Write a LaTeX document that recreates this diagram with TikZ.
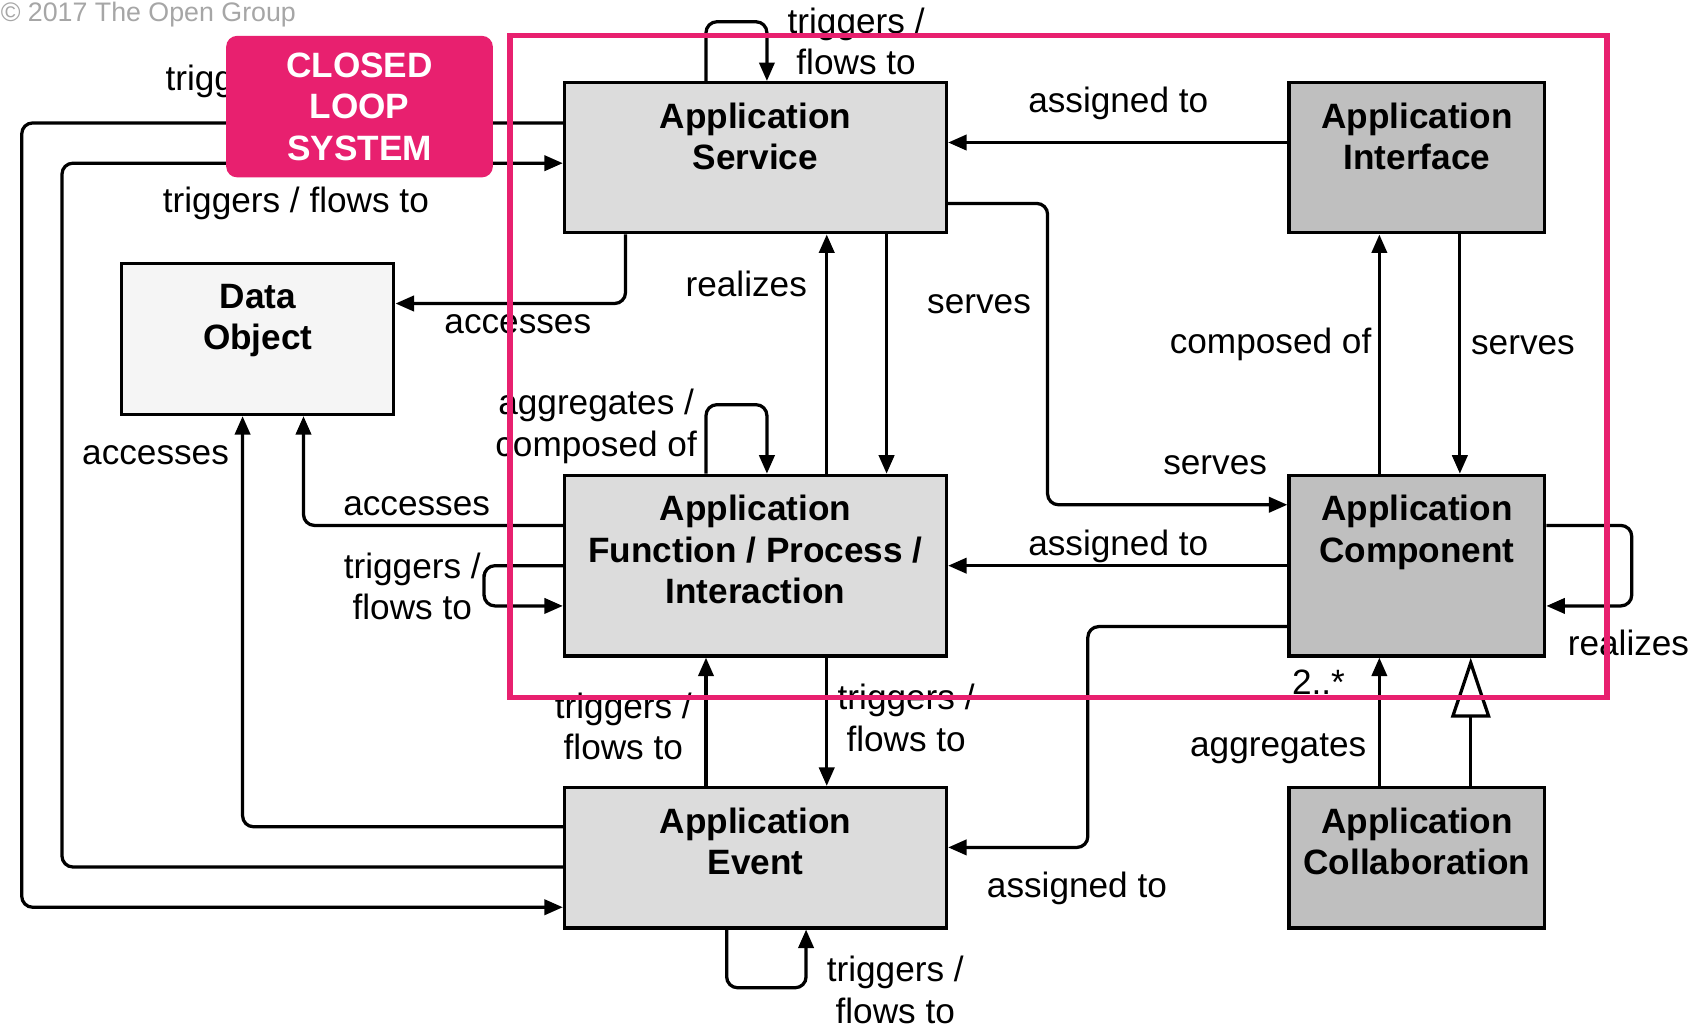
\documentclass[tikz,border=0pt]{standalone}
\usepackage{fontspec}
\setmainfont{Liberation Sans}
\usetikzlibrary{arrows.meta}
\definecolor{lg}{HTML}{DCDCDC}
\definecolor{dg}{HTML}{BFBFBF}
\definecolor{pk}{HTML}{E8206F}
\begin{document}
\begin{tikzpicture}[x=0.01cm,y=-0.01cm,
  every node/.style={font=\fontsize{9.2}{10.8}\selectfont},
  box/.style={draw,line width=0.85pt,minimum width=#1},
  ln/.style={line width=0.85pt,rounded corners=0.1cm},
  ar/.style={ln,-{Triangle[length=0.17cm,width=0.14cm]}},
  lab/.style={align=center,inner sep=1pt},
  bt/.style={font=\fontsize{9.2}{10.8}\selectfont\bfseries,align=center}]
\useasboundingbox (0,0) rectangle (1560,945);
\node[anchor=west,text=gray!70,font=\fontsize{7}{8}\selectfont,inner sep=0] (cr) at (0,13) {© 2017 The Open Group};
% boxes
\node[box=3.51cm,minimum height=1.38cm,fill=lg] (svc) at (694.5,145) {};
\node[bt,anchor=north] (svct) at (694.5,82) {Application\\Service};
\node[box=2.35cm,minimum height=1.38cm,fill=dg] (ifc) at (1302.5,145) {};
\node[bt,anchor=north] (ifct) at (1302.5,82) {Application\\Interface};
\node[box=2.5cm,minimum height=1.39cm,fill=gray!8] (dat) at (237,311.5) {};
\node[bt,anchor=north] (datt) at (237,249) {Data\\Object};
\node[box=3.51cm,minimum height=1.66cm,fill=lg] (fun) at (694.5,520) {};
\node[bt,anchor=north] (funt) at (694.5,443) {Application\\Function / Process /\\Interaction};
\node[box=2.35cm,minimum height=1.66cm,fill=dg] (cmp) at (1302.5,520) {};
\node[bt,anchor=north] (cmpt) at (1302.5,443) {Application\\Component};
\node[box=3.51cm,minimum height=1.29cm,fill=lg] (evt) at (694.5,788.5) {};
\node[bt,anchor=north] (evtt) at (694.5,730) {Application\\Event};
\node[box=2.35cm,minimum height=1.29cm,fill=dg] (col) at (1302.5,788.5) {};
\node[bt,anchor=north] (colt) at (1302.5,730) {Application\\Collaboration};
% connectors
\draw[ar] (svc.north -| 649,0) |- (677,20) -| (svc.north -| 705,0);
\node[lab] (l1) at (787,38) {triggers /\\flows to};
\draw[ar] (ifc.west |- 0,131) -- (svc.east |- 0,131);
\node[lab] (l2) at (1028,95) {assigned to};
\draw[ar] (svc.east |- 0,187) -| (963,464) -- (cmp.west |- 0,464);
\node[lab] (l3) at (1117,428) {serves};
\draw[ar] (svc.south -| 815,0) -- (fun.north -| 815,0);
\node[lab] (l4) at (900,280) {serves};
\draw[ar] (fun.north -| 760,0) -- (svc.south -| 760,0);
\node[lab] (l5) at (686,261) {realizes};
\draw[ar] (svc.south -| 575,0) |- (dat.east |- 0,279);
\node[lab] (l6) at (476,298) {accesses};
\draw[ar] (svc.west |- 0,113) -| (20,834) -- (evt.west |- 0,834);
\node[lab,anchor=west] (l7) at (148,75) {trigg};
\draw[ar] (evt.west |- 0,797) -| (57,150) -- (svc.west |- 0,150);
\node[lab] (l8) at (272,187) {triggers / flows to};
\draw[ar] (fun.west |- 0,483) -| (dat.south -| 279,0);
\node[lab] (l9) at (383,465) {accesses};
\draw[ar] (evt.west |- 0,760) -| (dat.south -| 223,0);
\node[lab] (l10) at (143,418) {accesses};
\draw[ar] (fun.north -| 649,0) |- (677,372) -| (fun.north -| 705,0);
\node[lab] (l11) at (548,392) {aggregates /\\composed of};
\draw[ar] (fun.west |- 0,520) -| (445,538) |- (fun.west |- 0,557);
\node[lab] (l12) at (379,539) {triggers /\\flows to};
\draw[ar] (cmp.west |- 0,520) -- (fun.east |- 0,520);
\node[lab] (l13) at (1028,502) {assigned to};
\draw[ar] (cmp.north -| 1268,0) -- (ifc.south -| 1268,0);
\node[lab] (l14) at (1168,317) {composed of};
\draw[ar] (ifc.south -| 1342,0) -- (cmp.north -| 1342,0);
\node[lab] (l15) at (1400,317) {serves};
\draw[ar] (cmp.east |- 0,483) -| (1500,520) |- (cmp.east |- 0,557);
\node[lab] (l16) at (1497,591) {realizes};
\draw[ar] (cmp.west |- 0,576) -| (1000,700) |- (evt.east |- 0,779);
\node[lab] (l17) at (990,817) {assigned to};
\draw[ar] (fun.south -| 760,0) -- (evt.north -| 760,0);
\node[lab] (l18) at (833,660) {triggers /\\flows to};
\draw[ar] (evt.north -| 649,0) -- (fun.south -| 649,0);
\node[lab] (l19) at (573,668) {triggers /\\flows to};
\draw[ar] (evt.south -| 668,0) |- (705,908) -| (evt.south -| 741,0);
\node[lab] (l20) at (823,910) {triggers /\\flows to};
\draw[ar] (col.north -| 1268,0) -- (cmp.south -| 1268,0);
\node[lab] (l21) at (1175,688) {aggregates};
\node[lab] (l22) at (1212,627) {2..*};
\draw[ln,-{Triangle[open,length=0.55cm,width=0.36cm]}] (col.north -| 1352,0) -- (cmp.south -| 1352,0);
% overlays
\node[fill=pk,rounded corners=0.1cm,minimum width=2.45cm,minimum height=1.3cm,text=white,font=\fontsize{9.2}{10.8}\selectfont\bfseries,align=center] (cls) at (330.5,98) {CLOSED\\LOOP\\SYSTEM};
\node[draw=pk,line width=1.4pt,minimum width=10.08cm,minimum height=6.08cm,inner sep=0] (frm) at (973,337) {};
\end{tikzpicture}
\end{document}
